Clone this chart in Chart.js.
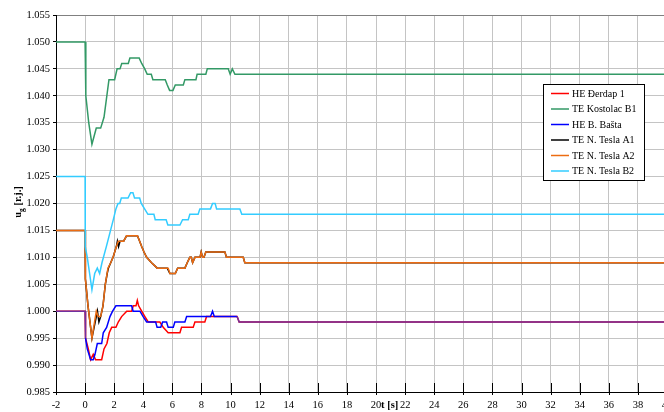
<!DOCTYPE html>
<html>
<head>
<meta charset="utf-8">
<script src="https://cdn.jsdelivr.net/npm/chart.js@4.4.0/dist/chart.umd.min.js"></script>
<style>
  html, body { margin: 0; padding: 0; background: #fff; overflow: hidden; width: 664px; height: 412px; }
  canvas { display: block; }
</style>
</head>
<body>
<canvas id="c" width="680" height="412"></canvas>
<script>
// Generator terminal voltages u_g [r.j.] versus time t [s]

const seriesNames = ['HE Đerdap 1', 'TE Kostolac B1', 'HE B. Bašta', 'TE N. Tesla A1', 'TE N. Tesla A2', 'TE N. Tesla B2'];

// HE Đerdap 1
const tDerdap = [-2, 0, 0.03, 0.22, 0.38, 0.56, 0.72, 1.14, 1.3, 1.5, 1.66, 1.83, 2.12, 2.28, 2.51, 2.86, 3.2, 3.31, 3.5, 3.59, 3.68, 3.89, 4.11, 4.34, 5.14, 5.37, 5.71, 6.52, 6.63, 7.43, 7.55, 8.23, 8.35, 10.45, 10.59, 40];
const uDerdap = [1.000, 1.000, 0.995, 0.993, 0.991, 0.992, 0.991, 0.991, 0.993, 0.994, 0.996, 0.997, 0.997, 0.998, 0.999, 1.000, 1.000, 1.001, 1.001, 1.002, 1.001, 1.000, 0.999, 0.998, 0.998, 0.997, 0.996, 0.996, 0.997, 0.997, 0.998, 0.998, 0.999, 0.999, 0.998, 0.998];

// TE Kostolac B1
const tKostolac = [-2, 0, 0.05, 0.25, 0.47, 0.77, 1.07, 1.3, 1.64, 2.03, 2.2, 2.4, 2.52, 2.97, 3.08, 3.72, 3.89, 4.1, 4.27, 4.55, 4.66, 5.51, 5.65, 5.81, 6.04, 6.2, 6.75, 6.86, 7.62, 7.7, 8.3, 8.4, 9.84, 9.97, 10.12, 10.3, 40];
const uKostolac = [1.050, 1.050, 1.040, 1.035, 1.031, 1.034, 1.034, 1.036, 1.043, 1.043, 1.045, 1.045, 1.046, 1.046, 1.047, 1.047, 1.046, 1.045, 1.044, 1.044, 1.043, 1.043, 1.042, 1.041, 1.041, 1.042, 1.042, 1.043, 1.043, 1.044, 1.044, 1.045, 1.045, 1.044, 1.045, 1.044, 1.044];

// HE B. Bašta
const tBasta = [-2, 0, 0.03, 0.15, 0.38, 0.56, 0.68, 0.84, 1.14, 1.25, 1.48, 1.71, 1.89, 2.12, 3.2, 3.3, 3.77, 3.99, 4.23, 4.85, 4.95, 5.2, 5.33, 5.6, 5.71, 6.06, 6.17, 6.86, 6.98, 8.62, 8.76, 8.88, 10.45, 10.59, 40];
const uBasta = [1.000, 1.000, 0.995, 0.993, 0.991, 0.991, 0.992, 0.994, 0.994, 0.996, 0.997, 0.999, 1.000, 1.001, 1.001, 1.000, 1.000, 0.999, 0.998, 0.998, 0.997, 0.997, 0.998, 0.998, 0.997, 0.997, 0.998, 0.998, 0.999, 0.999, 1.000, 0.999, 0.999, 0.998, 0.998];

// TE N. Tesla A1
const tTeslaA1 = [-2, 0, 0.02, 0.2, 0.47, 0.77, 0.85, 0.95, 1.07, 1.23, 1.39, 1.52, 1.6, 1.76, 1.92, 2.15, 2.22, 2.3, 2.4, 2.65, 2.85, 3.6, 3.75, 3.89, 4.05, 4.23, 4.57, 4.96, 5.65, 5.83, 6.2, 6.36, 6.86, 7.02, 7.2, 7.3, 7.39, 7.55, 7.9, 7.98, 8.08, 8.17, 8.3, 9.61, 9.72, 10.87, 10.98, 40];
const uTeslaA1 = [1.015, 1.015, 1.006, 1.001, 0.995, 0.999, 1.000, 0.998, 0.999, 1.001, 1.005, 1.007, 1.008, 1.009, 1.010, 1.012, 1.013, 1.012, 1.013, 1.013, 1.014, 1.014, 1.013, 1.012, 1.011, 1.010, 1.009, 1.008, 1.008, 1.007, 1.007, 1.008, 1.008, 1.009, 1.010, 1.010, 1.009, 1.010, 1.010, 1.011, 1.010, 1.010, 1.011, 1.011, 1.010, 1.010, 1.009, 1.009];

// TE N. Tesla A2
const tTeslaA2 = [-2, 0, 0.02, 0.2, 0.47, 0.77, 0.9, 1.07, 1.23, 1.39, 1.57, 1.76, 1.92, 2.15, 2.28, 2.65, 2.85, 3.6, 3.75, 3.89, 4.05, 4.23, 4.57, 4.96, 5.71, 5.83, 6.2, 6.36, 6.86, 7.02, 7.2, 7.3, 7.39, 7.55, 7.9, 7.98, 8.08, 8.17, 8.3, 9.61, 9.72, 10.87, 10.98, 40];
const uTeslaA2 = [1.015, 1.015, 1.006, 1.001, 0.995, 1.000, 0.999, 0.999, 1.001, 1.005, 1.008, 1.009, 1.010, 1.012, 1.013, 1.013, 1.014, 1.014, 1.013, 1.012, 1.011, 1.010, 1.009, 1.008, 1.008, 1.007, 1.007, 1.008, 1.008, 1.009, 1.010, 1.010, 1.009, 1.010, 1.010, 1.011, 1.010, 1.010, 1.011, 1.011, 1.010, 1.010, 1.009, 1.009];

// TE N. Tesla B2
const tTeslaB2 = [-2, 0, 0.01, 0.15, 0.31, 0.47, 0.66, 0.84, 1.0, 1.16, 1.46, 1.94, 2.12, 2.26, 2.38, 2.49, 2.95, 3.13, 3.29, 3.4, 3.75, 3.86, 4.09, 4.32, 4.73, 4.82, 5.57, 5.69, 6.52, 6.7, 7.09, 7.2, 7.77, 7.89, 8.62, 8.76, 8.94, 9.04, 10.64, 10.77, 40];
const uTeslaB2 = [1.025, 1.025, 1.012, 1.010, 1.007, 1.004, 1.007, 1.008, 1.007, 1.009, 1.012, 1.017, 1.019, 1.020, 1.020, 1.021, 1.021, 1.022, 1.022, 1.021, 1.021, 1.020, 1.019, 1.018, 1.018, 1.017, 1.017, 1.016, 1.016, 1.017, 1.017, 1.018, 1.018, 1.019, 1.019, 1.020, 1.020, 1.019, 1.019, 1.018, 1.018];

// Axis ranges
const tMin = -2, tMax = 40, tStep = 2;
const uMin = 0.985, uMax = 1.055, uStep = 0.005;

const serif = "'Liberation Serif', 'Times New Roman', serif";
const toPoints = (t, u) => t.map((x, i) => ({ x: x, y: u[i] }));

// Points that the Đerdap and Bašta curves have in common; a segment running
// between two shared points is drawn in the blended colour of both lines.
const derdapKeys = new Set(tDerdap.map((x, i) => x + ':' + uDerdap[i]));
const bastaShared = i => derdapKeys.has(tBasta[i] + ':' + uBasta[i]);

const crossTicksAndTitles = {
  id: 'crossTicksAndTitles',
  afterDraw(chart) {
    const { ctx, chartArea: a, scales: { x } } = chart;
    ctx.save();
    // tick marks crossing the time axis
    ctx.strokeStyle = '#000';
    ctx.lineWidth = 1;
    x.ticks.forEach(tk => {
      const px = Math.round(x.getPixelForValue(tk.value)) + 0.5;
      ctx.beginPath();
      ctx.moveTo(px, a.bottom - 9);
      ctx.lineTo(px, a.bottom + 3);
      ctx.stroke();
    });
    // time axis title, placed inline with the tick labels
    ctx.fillStyle = '#000';
    ctx.font = 'bold 10.5px ' + serif;
    ctx.textAlign = 'left';
    ctx.textBaseline = 'middle';
    ctx.fillText('t [s]', x.getPixelForValue(20) + 5, a.bottom + 13.5);
    // vertical axis title u_g [r.j.]
    ctx.translate(18, 202);
    ctx.rotate(-Math.PI / 2);
    const big = 'bold 10.5px ' + serif, small = 'bold 7.5px ' + serif;
    ctx.font = big;
    const w1 = ctx.measureText('u').width;
    const w3 = ctx.measureText(' [r.j.]').width;
    ctx.font = small;
    const w2 = ctx.measureText('g').width;
    let sx = -(w1 + w2 + w3) / 2;
    ctx.textBaseline = 'alphabetic';
    ctx.font = big; ctx.fillText('u', sx, 3); sx += w1;
    ctx.font = small; ctx.fillText('g', sx, 5.5); sx += w2;
    ctx.font = big; ctx.fillText(' [r.j.]', sx, 3);
    ctx.restore();
  }
};

const boxedLegend = {
  id: 'boxedLegend',
  afterDatasetsDraw(chart) {
    const { ctx } = chart;
    const bx = 543.5, by = 84.5, bw = 101, bh = 96;
    ctx.save();
    ctx.fillStyle = '#fff';
    ctx.fillRect(bx, by, bw, bh);
    ctx.strokeStyle = '#000';
    ctx.lineWidth = 1;
    ctx.strokeRect(bx, by, bw, bh);
    ctx.font = '10px ' + serif;
    ctx.textAlign = 'left';
    ctx.textBaseline = 'middle';
    chart.data.datasets.forEach((ds, i) => {
      const yy = 93.5 + i * 15.5;
      ctx.strokeStyle = ds.borderColor;
      ctx.lineWidth = 1.5;
      ctx.beginPath();
      ctx.moveTo(551, yy);
      ctx.lineTo(569, yy);
      ctx.stroke();
      ctx.fillStyle = '#000';
      ctx.fillText(ds.label, 572, yy + 0.5);
    });
    ctx.restore();
  }
};

new Chart(document.getElementById('c'), {
  type: 'line',
  data: {
    datasets: [
      { label: seriesNames[0], data: toPoints(tDerdap, uDerdap), borderColor: '#ff0000', order: 5 },
      { label: seriesNames[1], data: toPoints(tKostolac, uKostolac), borderColor: '#339966', order: 3 },
      { label: seriesNames[2], data: toPoints(tBasta, uBasta), borderColor: '#0000ff', order: 2,
        segment: { borderColor: c => (bastaShared(c.p0DataIndex) && bastaShared(c.p1DataIndex)) ? '#7030a0' : undefined } },
      { label: seriesNames[3], data: toPoints(tTeslaA1, uTeslaA1), borderColor: '#000000', order: 4 },
      { label: seriesNames[4], data: toPoints(tTeslaA2, uTeslaA2), borderColor: '#ec6c12', order: 1 },
      { label: seriesNames[5], data: toPoints(tTeslaB2, uTeslaB2), borderColor: '#33ccff', order: 0 }
    ]
  },
  options: {
    responsive: false,
    animation: false,
    events: [],
    layout: { padding: { top: 15, right: 13, bottom: 0, left: 0 }, autoPadding: false },
    plugins: { legend: { display: false }, tooltip: { enabled: false } },
    elements: {
      point: { radius: 0 },
      line: { borderWidth: 1.5, tension: 0, fill: false }
    },
    scales: {
      x: {
        type: 'linear', min: tMin, max: tMax,
        ticks: { stepSize: tStep, padding: 7, color: '#000', autoSkip: false, maxRotation: 0,
                 font: { family: serif, size: 10.5 }, callback: v => String(v) },
        grid: { color: '#c4c4c4', lineWidth: 1, drawTicks: false },
        border: { color: '#000', width: 1 },
        afterFit: s => { s.height = 20; }
      },
      y: {
        type: 'linear', min: uMin, max: uMax,
        ticks: { stepSize: uStep, padding: 3, color: '#000',
                 font: { family: serif, size: 10.5 }, callback: v => Number(v).toFixed(3) },
        grid: {
          color: c => (c.tick && Math.abs(c.tick.value - uMax) < 1e-9) ? '#808080' : '#c4c4c4',
          lineWidth: 1, tickLength: 3, tickColor: '#000'
        },
        border: { color: '#000', width: 1 },
        afterFit: s => { s.width = 56; }
      }
    }
  },
  plugins: [crossTicksAndTitles, boxedLegend]
});
</script>
</body>
</html>
